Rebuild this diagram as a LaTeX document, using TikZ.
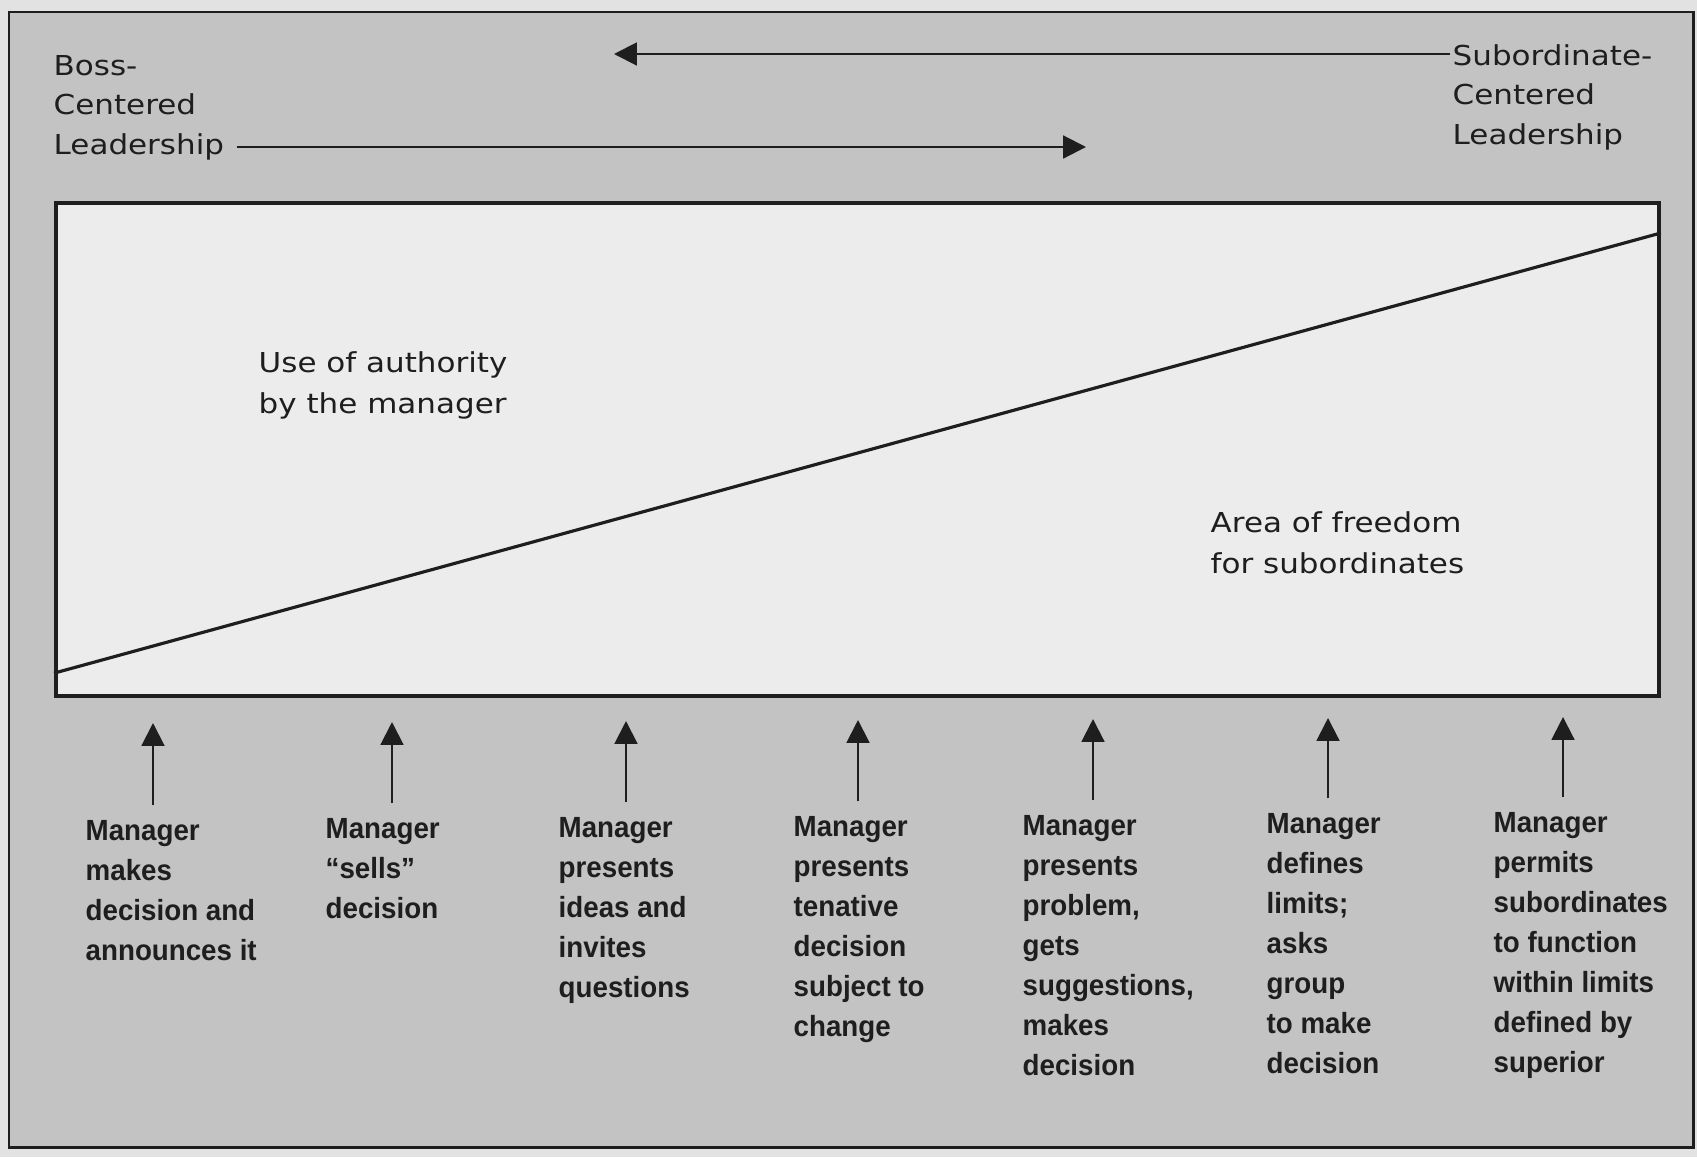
\documentclass[tikz,border=0pt]{standalone}
\usepackage{fontspec}
\usepackage{tikz}
\usetikzlibrary{arrows.meta,positioning,calc}
\newfontfamily\leadfont[FakeStretch=1.13]{DejaVu Sans}
\newfontfamily\stepfont[FakeStretch=0.95]{Liberation Sans}
\definecolor{ink}{HTML}{1E1E1E}
\definecolor{scan}{HTML}{C3C3C3}
\definecolor{paper}{HTML}{ECECEC}
\definecolor{margin}{HTML}{E2E2E2}

\begin{document}
\begin{tikzpicture}[
  x=0.01cm,y=-0.01cm,
  lead/.style={inner sep=0pt,anchor=base west,align=left,text=ink,font=\leadfont\fontsize{7.8}{11.2}\selectfont},
  note/.style={inner sep=0pt,anchor=base west,align=left,text=ink,font=\leadfont\fontsize{7.8}{11.4}\selectfont},
  choice/.style={inner sep=0pt,anchor=base west,align=left,text=ink,font=\stepfont\bfseries\fontsize{8.3}{11.4}\selectfont},
  arr/.style={-{Triangle[length=6.5pt,width=6.5pt]},line width=0.6pt,ink}
]
\useasboundingbox (0,0) rectangle (1697,1157);
\fill[margin] (0,0) rectangle (1697,1157);
\draw[ink,line width=0.85pt,fill=scan] (9,12) rectangle (1693,1147);
\node[draw=ink,line width=1.1pt,fill=paper,inner sep=0pt,minimum width=16.02cm,minimum height=4.93cm,anchor=north west] (area) at (54,201) {};
\draw[ink,line width=0.9pt] ($(area.south west)+(0,-25)$) -- ($(area.north east)+(0,32)$);
\node[note] (authority) at (258,413) {Use of authority\\by the manager};
\node[note] (freedom) at (1210,573) {Area of freedom\\for subordinates};
\node[lead] (boss) at (53,154) {Boss-\\Centered\\Leadership};
\node[lead] (sub) at (1452,144) {Subordinate-\\Centered\\Leadership};
\coordinate (toboss) at (614,54);
\coordinate (tosub) at (1086,147);
\draw[arr] ($(sub.base west)+(-2,-90)$) -- (toboss);
\draw[arr] ($(boss.base east)+(12,-7)$) -- (tosub);
\foreach \i/\x/\y/\n/\ax/\ty/\txt in {
  1/85/840/4/153/723/{Manager\\makes\\decision and\\announces it},
  2/325/838/3/392/722/{Manager\\“sells”\\decision},
  3/558/837/5/626/721/{Manager\\presents\\ideas and\\invites\\questions},
  4/793/836/6/858/720/{Manager\\presents\\tenative\\decision\\subject to\\change},
  5/1022/835/7/1093/719/{Manager\\presents\\problem,\\gets\\suggestions,\\makes\\decision},
  6/1266/833/7/1328/718/{Manager\\defines\\limits;\\asks\\group\\to make\\decision},
  7/1493/832/7/1563/717/{Manager\\permits\\subordinates\\to function\\within limits\\defined by\\superior}}{
  \node[choice] (step\i) at (\x,{\y+(\n-1)*40.1}) {\txt};
  \coordinate (tip\i) at (\ax,\ty);
  \draw[arr] ($(step\i.north -| tip\i)+(0,-14)$) -- (tip\i);
}
\end{tikzpicture}
\end{document}
